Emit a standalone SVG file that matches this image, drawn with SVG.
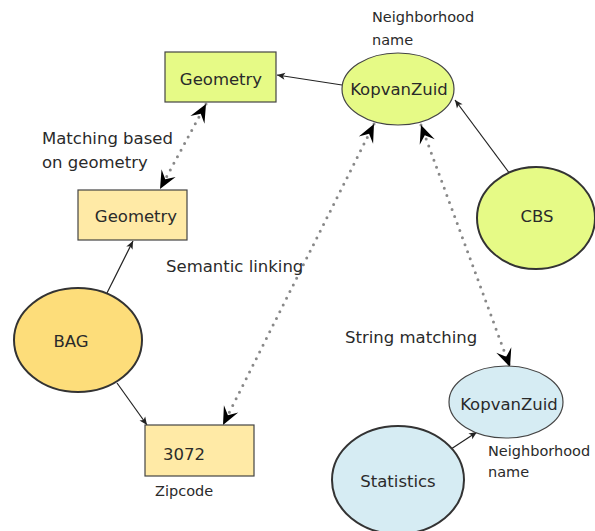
<svg xmlns="http://www.w3.org/2000/svg" width="595" height="531" viewBox="0 0 595 531">
<style>
text{font-family:"DejaVu Sans","Liberation Sans",sans-serif;fill:#2a2a2a}
.lbl{font-size:16.5px}
.sm{font-size:14.5px}
.n{stroke:#444;stroke-width:1.2}
.thick{stroke:#333;stroke-width:2}
.solid{stroke:#222;stroke-width:1.2;fill:none}
.dot{stroke:#888;stroke-width:3;stroke-linecap:round;stroke-dasharray:0 7.5;fill:none}
</style>
<defs>
<marker id="big" markerUnits="userSpaceOnUse" markerWidth="24" markerHeight="20" refX="0" refY="0" viewBox="-20 -10 24 20" orient="auto-start-reverse">
<path d="M0,0 L-18,-8 L-11,0 L-18,8 Z" fill="#000"/>
</marker>
<marker id="small" markerUnits="userSpaceOnUse" markerWidth="12" markerHeight="10" refX="0" refY="0" viewBox="-10 -5 12 10" orient="auto">
<path d="M0,0 L-8,-3.5 L-6,0 L-8,3.5 Z" fill="#222"/>
</marker>
</defs>
<g id="connectors">
<line class="solid" x1="342" y1="85" x2="277" y2="75" marker-end="url(#small)"/>
<line class="solid" x1="510" y1="174" x2="455" y2="100" marker-end="url(#small)"/>
<line class="solid" x1="107" y1="293" x2="133" y2="241" marker-end="url(#small)"/>
<line class="solid" x1="117" y1="383" x2="147" y2="425" marker-end="url(#small)"/>
<line class="solid" x1="448" y1="451" x2="477" y2="432" marker-end="url(#small)"/>
<line class="dot" x1="206" y1="104" x2="160" y2="189" marker-start="url(#big)" marker-end="url(#big)"/>
<line class="dot" x1="374" y1="124" x2="223" y2="425" marker-start="url(#big)" marker-end="url(#big)"/>
<line class="dot" x1="421" y1="125" x2="510" y2="367" marker-start="url(#big)" marker-end="url(#big)"/>
</g>
<g id="geometry-top">
<rect class="n" x="165" y="52" width="111" height="50" fill="#e6fa86"/>
<text class="lbl" x="221" y="85" text-anchor="middle">Geometry</text>
</g>
<g id="kopvanzuid-top">
<ellipse class="n" cx="398" cy="89" rx="56" ry="36" fill="#e6fa86"/>
<text class="lbl" x="399" y="95" text-anchor="middle">KopvanZuid</text>
</g>
<g id="cbs">
<ellipse class="thick" cx="536" cy="218" rx="59" ry="51" fill="#e6fa86"/>
<text class="lbl" x="537" y="222" text-anchor="middle">CBS</text>
</g>
<g id="geometry-bottom">
<rect class="n" x="78" y="190" width="109" height="50" fill="#ffeaa6"/>
<text class="lbl" x="136" y="222" text-anchor="middle">Geometry</text>
</g>
<g id="bag">
<ellipse class="thick" cx="78" cy="340" rx="64" ry="52" fill="#fddd7a"/>
<text class="lbl" x="71" y="347" text-anchor="middle">BAG</text>
</g>
<g id="zipcode">
<rect class="n" x="145" y="425" width="109" height="51" fill="#ffeaa6"/>
<text class="lbl" x="163" y="460">3072</text>
</g>
<g id="kopvanzuid-bottom">
<ellipse class="n" cx="506" cy="402" rx="57" ry="36" fill="#d6ecf3"/>
<text class="lbl" x="509" y="410" text-anchor="middle">KopvanZuid</text>
</g>
<g id="statistics">
<ellipse class="thick" cx="398" cy="480" rx="66" ry="54" fill="#d6ecf3"/>
<text class="lbl" x="398" y="487" text-anchor="middle">Statistics</text>
</g>
<g id="labels">
<text class="sm" x="372" y="22">Neighborhood</text>
<text class="sm" x="372" y="45">name</text>
<text class="lbl" x="42" y="144">Matching based</text>
<text class="lbl" x="42" y="168">on geometry</text>
<text class="lbl" x="166" y="272">Semantic linking</text>
<text class="lbl" x="345" y="343">String matching</text>
<text class="sm" x="488" y="456">Neighborhood</text>
<text class="sm" x="488" y="477">name</text>
<text class="sm" x="155" y="496">Zipcode</text>
</g>
</svg>
